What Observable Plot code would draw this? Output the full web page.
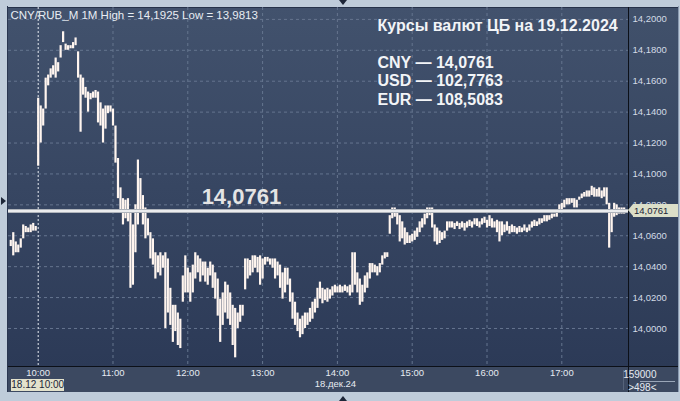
<!DOCTYPE html>
<html><head><meta charset="utf-8">
<script src="https://cdn.jsdelivr.net/npm/d3@7"></script>
<script src="https://cdn.jsdelivr.net/npm/@observablehq/plot@0.6"></script>
<style>
html,body{margin:0;padding:0;background:#bfccda;}
#wrap{position:relative;width:680px;height:401px;overflow:hidden;font-family:"Liberation Sans",Arial,sans-serif;background:#bfccda;}
.abs{position:absolute;}
#chartbg{left:8px;top:7px;width:620px;height:359px;background:linear-gradient(#42526d,#2c3a57);border-top:1px solid #26324a;}
#axisbg{left:629px;top:7px;width:49px;height:359px;background:linear-gradient(#41516b,#2c3a56);border-top:1px solid #26324a;}
#bandbg{left:8px;top:367px;width:670px;height:25px;background:#3c4961;}
#leftline{left:7px;top:6px;width:1px;height:386px;background:#2a3650;}
#vsep{left:628px;top:7px;width:1px;height:385px;background:#0c1018;}
#vsep2{left:623px;top:370px;width:1px;height:20px;background:#56637a;}
#hsep{left:8px;top:366px;width:670px;height:1px;background:#0c1018;}
#rline{left:678px;top:6px;width:1px;height:386px;background:#8a9ab0;}
#cntline{left:640px;top:381px;width:35px;height:1px;background:#9aa6b8;}
.tri{position:absolute;width:0;height:0;}
#tTop{left:339px;top:0;border-left:4px solid transparent;border-right:4px solid transparent;border-top:5px solid #1d2638;}
#tBot{left:339px;top:396px;border-left:4px solid transparent;border-right:4px solid transparent;border-bottom:5px solid #1d2638;}
#tLeft{left:1px;top:197px;border-top:4px solid transparent;border-bottom:4px solid transparent;border-left:5px solid #1d2638;}
.tag{position:absolute;font-size:9.5px;line-height:12px;color:#1b2438;background:#dcdfc8;white-space:nowrap;}
</style></head>
<body>
<div id="wrap">
  <div id="chartbg" class="abs"></div>
  <div id="axisbg" class="abs"></div>
  <div id="bandbg" class="abs"></div>
  <div id="leftline" class="abs"></div>
  <div id="vsep" class="abs"></div>
  <div id="vsep2" class="abs"></div>
  <div id="hsep" class="abs"></div>
  <div id="rline" class="abs"></div>
  <div id="cntline" class="abs"></div>
  <div id="tTop" class="tri"></div>
  <div id="tBot" class="tri"></div>
  <div id="tLeft" class="tri"></div>
</div>
<script>
// ---- data (1M CNY/RUB, sampled every 2 minutes from 09:38, 18.12.2024) ----
const startTime = "09:38";
const stepMinutes = 2;
const highs = [
14.057,14.062,14.056,14.054,14.058,14.067,14.066,14.065,14.067,14.068,
14.066,14.149,14.144,14.142,14.162,14.164,14.168,14.170,14.175,14.172,
14.183,14.192,14.184,14.183,14.183,14.185,14.188,14.179,14.164,14.162,
14.156,14.153,14.152,14.153,14.154,14.153,14.146,14.142,14.144,14.144,
14.144,14.142,14.131,14.110,14.091,14.084,14.083,14.084,14.075,14.067,
14.080,14.109,14.097,14.086,14.078,14.071,14.062,14.058,14.049,14.047,
14.049,14.047,14.049,14.045,14.026,14.015,14.015,14.010,14.006,14.034,
14.047,14.039,14.036,14.041,14.049,14.047,14.045,14.043,14.043,14.039,
14.043,14.041,14.036,14.032,14.019,14.023,14.030,14.028,14.023,14.015,
14.013,14.010,14.015,14.015,14.045,14.045,14.044,14.047,14.047,14.046,
14.047,14.045,14.046,14.046,14.045,14.045,14.045,14.043,14.041,14.036,
14.039,14.039,14.032,14.023,14.017,14.010,14.006,14.008,14.010,14.010,
14.013,14.017,14.019,14.026,14.030,14.026,14.025,14.026,14.025,14.027,
14.028,14.027,14.028,14.027,14.028,14.027,14.028,14.049,14.049,14.036,
14.032,14.028,14.034,14.036,14.042,14.042,14.041,14.040,14.042,14.047,
14.049,14.049,14.073,14.078,14.078,14.075,14.073,14.069,14.065,14.062,
14.060,14.061,14.063,14.065,14.069,14.071,14.074,14.078,14.078,14.078,
14.067,14.065,14.063,14.062,14.063,14.069,14.069,14.069,14.068,14.069,
14.068,14.069,14.068,14.069,14.070,14.069,14.071,14.071,14.069,14.071,
14.072,14.070,14.073,14.071,14.069,14.070,14.069,14.069,14.067,14.069,
14.066,14.067,14.066,14.065,14.066,14.065,14.067,14.065,14.067,14.069,
14.070,14.069,14.071,14.071,14.073,14.073,14.073,14.074,14.074,14.075,
14.080,14.081,14.083,14.084,14.084,14.084,14.084,14.083,14.085,14.087,
14.088,14.089,14.089,14.092,14.091,14.090,14.091,14.089,14.091,14.091,
14.081,14.075,14.081,14.080,14.078,14.078,14.078
];
const lows = [
14.053,14.047,14.049,14.049,14.052,14.058,14.062,14.062,14.062,14.063,
14.063,14.105,14.120,14.131,14.142,14.157,14.162,14.164,14.162,14.166,
14.175,14.185,14.180,14.180,14.181,14.181,14.183,14.162,14.127,14.151,
14.149,14.140,14.148,14.149,14.149,14.133,14.131,14.120,14.129,14.139,
14.140,14.131,14.107,14.084,14.075,14.067,14.071,14.069,14.026,14.028,
14.049,14.067,14.075,14.067,14.058,14.060,14.045,14.041,14.032,14.036,
14.034,14.039,14.000,14.010,14.002,13.991,13.998,13.989,13.987,14.017,
14.023,14.023,14.017,14.023,14.032,14.036,14.030,14.034,14.030,14.028,
14.034,14.026,14.019,14.008,13.991,14.002,14.010,14.006,14.002,13.989,
13.981,14.000,14.004,14.008,14.025,14.032,14.034,14.036,14.039,14.036,
14.028,14.032,14.041,14.043,14.041,14.039,14.032,14.034,14.026,14.019,
14.023,14.028,14.017,14.006,14.002,13.998,13.994,13.996,14.000,14.002,
14.004,14.006,14.010,14.013,14.019,14.016,14.018,14.017,14.019,14.021,
14.023,14.023,14.023,14.023,14.024,14.023,14.021,14.023,14.028,14.023,
14.015,14.017,14.023,14.026,14.032,14.036,14.036,14.034,14.036,14.041,
14.045,14.046,14.061,14.071,14.072,14.067,14.056,14.058,14.054,14.055,
14.055,14.056,14.057,14.059,14.062,14.065,14.067,14.071,14.073,14.065,
14.056,14.054,14.055,14.057,14.058,14.063,14.065,14.065,14.064,14.066,
14.064,14.065,14.063,14.065,14.066,14.065,14.067,14.066,14.065,14.067,
14.068,14.065,14.066,14.065,14.065,14.062,14.056,14.060,14.062,14.063,
14.061,14.062,14.062,14.061,14.062,14.062,14.063,14.062,14.063,14.065,
14.066,14.066,14.067,14.068,14.069,14.069,14.070,14.071,14.072,14.072,
14.075,14.076,14.078,14.080,14.080,14.081,14.078,14.078,14.083,14.084,
14.085,14.085,14.085,14.086,14.085,14.085,14.085,14.084,14.085,14.080,
14.052,14.062,14.072,14.073,14.074,14.074,14.074
];
const yTicks = [14.00,14.02,14.04,14.06,14.08,14.10,14.12,14.14,14.16,14.18,14.20];
const hourLabels = ["10:00","11:00","12:00","13:00","14:00","15:00","16:00","17:00"];
const gridHours = ["11:00","12:00","13:00","14:00","15:00","16:00","17:00"];
const sessionStart = "10:00";
const dateLabel = "18.дек.24";
const cursorLabel = "18.12 10:00";
const headerText = "CNY/RUB_M 1M High = 14,1925 Low = 13,9813";
const titleText = "Курсы валют ЦБ на 19.12.2024";
const rateCodes = ["CNY","USD","EUR"];
const rateValues = ["14,0761","102,7763","108,5083"];
const cbrRate = 14.0761;
const cbrLabelTime = "12:43";
const volumeText = "159000";
const countText = ">498<";
const xDomain = ["09:36:11","17:53:30"];
const yDomain = [13.9754, 14.2077];

// ---- build ----
const toDate = s => { const p = s.split(":").map(Number); return new Date(Date.UTC(2024,11,18,p[0],p[1],p[2]||0)); };
const t0 = toDate(startTime).getTime();
const candles = highs.map((h,i) => ({t: new Date(t0 + i*stepMinutes*60000), hi: h, lo: lows[i]}));
const fmt = v => v.toFixed(4).replace(".", ",");
const font = "Liberation Sans, Arial, sans-serif";
const rateLines = rateCodes.map((c,i) => ({text: c + " — " + rateValues[i], row: i}));

const plot = Plot.plot({
  width: 680, height: 401,
  marginTop: 7, marginBottom: 35, marginLeft: 8, marginRight: 52,
  x: {type: "utc", domain: xDomain.map(toDate), label: null},
  y: {domain: yDomain, label: null},
  style: {background: "transparent", fontFamily: font, overflow: "visible"},
  marks: [
    Plot.gridY(yTicks, {stroke: "#65758f", strokeOpacity: 1, strokeDasharray: "3,3"}),
    Plot.gridX(gridHours.map(toDate), {stroke: "#65758f", strokeOpacity: 1, strokeDasharray: "3,3"}),
    Plot.ruleX([toDate(sessionStart)], {stroke: "#e6ebf2", strokeDasharray: "2,2", strokeWidth: 1}),
    Plot.ruleX(candles, {x: "t", y1: "lo", y2: "hi", stroke: "#fff5ef", strokeWidth: 2.2}),
    Plot.ruleY([cbrRate], {stroke: "#aeb3bb", strokeWidth: 4}),
    Plot.ruleY([cbrRate], {stroke: "#ffffff", strokeWidth: 1.5}),
    Plot.text([fmt(cbrRate)], {x: () => toDate(cbrLabelTime), y: () => cbrRate, text: d => d, lineAnchor: "bottom", dy: -7,
      fill: "#e4e4e4", fontSize: 22, fontWeight: "bold"}),
    Plot.axisY(yTicks, {anchor: "right", tickSize: 0, tickPadding: 4, tickFormat: fmt, fill: "#d3dbe6", fontSize: 9.5, label: null}),
    Plot.axisX(hourLabels.map(toDate), {anchor: "bottom", tickSize: 0, tickPadding: 3, tickFormat: d3.utcFormat("%H:%M"), fill: "#e6ebf2", fontSize: 9.5, label: null}),
    Plot.text([dateLabel], {frameAnchor: "bottom", x: () => toDate("14:00"), dx: -2, dy: 20, fill: "#e6ebf2", fontSize: 9.5}),
    Plot.text([headerText], {frameAnchor: "top-left", dx: 2, dy: 8, lineAnchor: "middle", textAnchor: "start", fill: "#e8edf3", fontSize: 11.5}),
    Plot.text([titleText], {frameAnchor: "top-left", dx: 369, dy: 18, lineAnchor: "middle", textAnchor: "start", fill: "#f2f4f7", fontSize: 16, fontWeight: "bold"}),
    ...rateLines.map(r => Plot.text([r.text], {frameAnchor: "top-left", dx: 369, dy: 55 + r.row * 18.5, lineAnchor: "middle", textAnchor: "start",
      fill: "#f2f4f7", fontSize: 16, fontWeight: "bold"})),
    Plot.text([volumeText], {frameAnchor: "bottom-right", dx: 28, dy: 8, lineAnchor: "middle", fill: "#e6ebf2", fontSize: 10}),
    Plot.text([countText], {frameAnchor: "bottom-right", dx: 28, dy: 21, lineAnchor: "middle", fill: "#e6ebf2", fontSize: 10})
  ]
});
plot.style.position = "absolute";
plot.style.left = "0px";
plot.style.top = "0px";
const wrap = document.getElementById("wrap");
wrap.appendChild(plot);

// price tag on the right axis
const yPix = plot.scale("y").apply(cbrRate);
const arrow = document.createElement("div");
arrow.className = "tri";
arrow.style.left = "628px"; arrow.style.top = (yPix - 6.5) + "px";
arrow.style.borderTop = "6.5px solid transparent"; arrow.style.borderBottom = "6.5px solid transparent"; arrow.style.borderRight = "5px solid #dcdfc8";
const tag = document.createElement("div");
tag.className = "tag";
tag.style.left = "633px"; tag.style.top = (yPix - 6.5) + "px"; tag.style.width = "44px"; tag.style.height = "13px";
tag.style.paddingLeft = "1px"; tag.style.lineHeight = "13px";
tag.textContent = fmt(cbrRate);
wrap.appendChild(arrow);
wrap.appendChild(tag);

// cursor date tag in the bottom band
const xPix = plot.scale("x").apply(toDate(sessionStart));
const ctag = document.createElement("div");
ctag.className = "tag";
ctag.style.left = (xPix - 26.5) + "px"; ctag.style.top = "379px"; ctag.style.width = "53px"; ctag.style.height = "12px";
ctag.style.textAlign = "center"; ctag.style.background = "#e3e2cc"; ctag.style.fontSize = "10px";
ctag.textContent = cursorLabel;
wrap.appendChild(ctag);
</script>
</body></html>
